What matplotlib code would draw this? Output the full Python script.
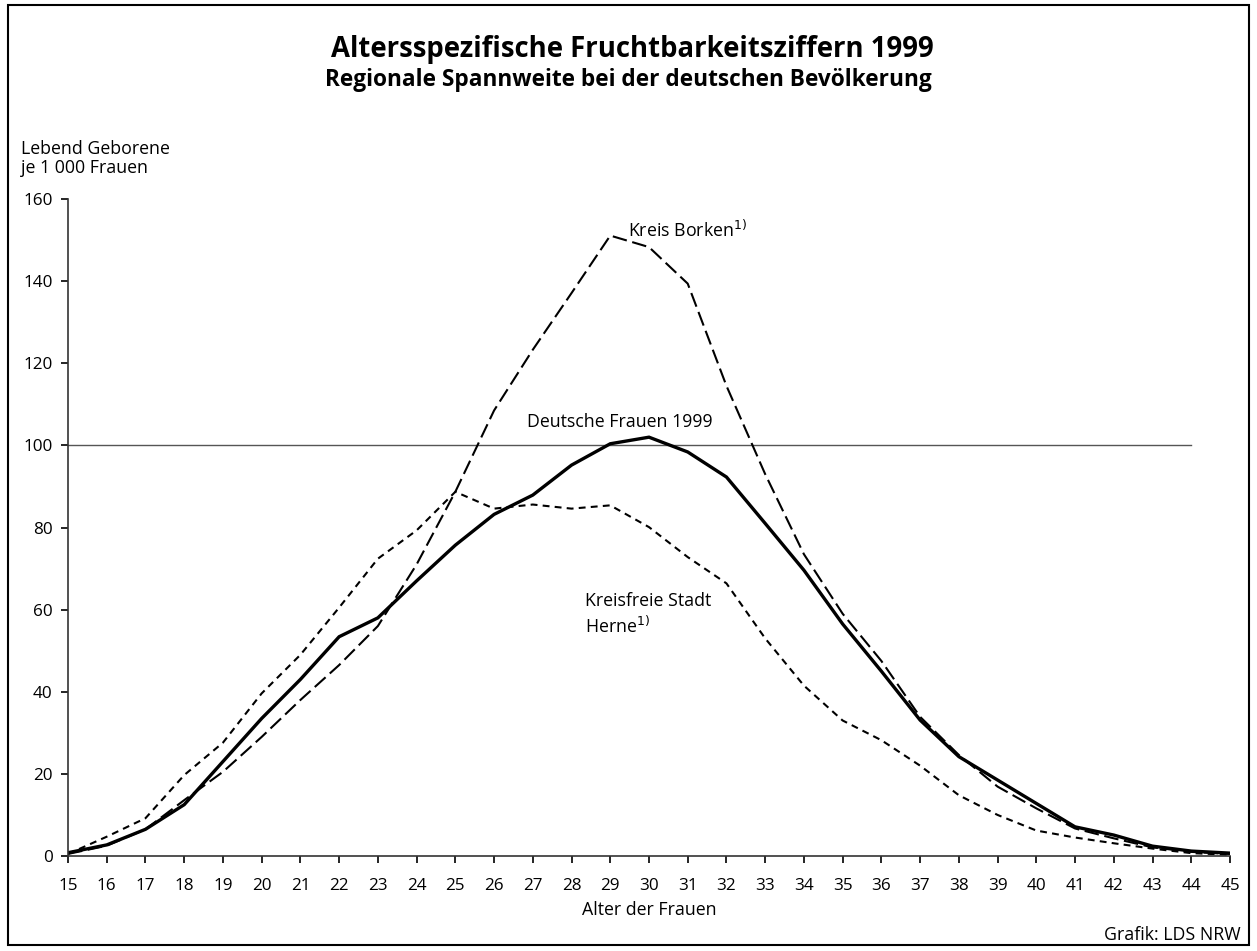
# Altersspezifische Fruchtbarkeitsziffern 1999 - regional range (German population)
import numpy as np
import matplotlib.pyplot as plt
from matplotlib.patches import Rectangle

plt.rcParams['font.family'] = ['Open Sans', 'DejaVu Sans']

# ages of women
ages = np.arange(15, 46)

# live births per 1 000 women
deutsche_frauen = [0.8, 2.7, 6.5, 12.5, 23.0, 33.5, 43.0, 53.4, 58.0, 67.0,
                   75.7, 83.2, 87.9, 95.2, 100.4, 102.0, 98.4, 92.3, 81.0, 69.6,
                   56.5, 45.0, 33.1, 24.2, 18.5, 12.8, 7.1, 5.1, 2.4, 1.2, 0.7]
kreis_borken = [0.5, 2.5, 6.5, 13.6, 20.5, 29.0, 38.0, 46.5, 56.0, 71.0,
                88.7, 108.5, 123.3, 137.1, 151.1, 148.3, 139.4, 114.5, 93.0, 73.5,
                59.0, 47.5, 33.9, 24.6, 16.9, 11.6, 6.7, 4.3, 2.1, 1.0, 0.5]
herne = [0.5, 4.7, 9.2, 19.7, 27.6, 39.6, 49.0, 60.5, 72.4, 79.3,
         88.7, 84.6, 85.6, 84.6, 85.4, 80.1, 72.8, 66.4, 53.0, 41.5,
         33.0, 28.2, 22.0, 14.8, 10.0, 6.2, 4.5, 3.1, 1.8, 0.7, 0.3]

fs = 12.8

fig = plt.figure(figsize=(12.57, 9.51), dpi=100)
ax = fig.add_axes([0.0541, 0.0999, 0.9244, 0.6908])

# reference line at 100
ax.plot([15, 44], [100, 100], color='#555555', lw=1.0)

ax.plot(ages, kreis_borken, color='black', lw=1.5, dashes=(7, 2.7))
ax.plot(ages, herne, color='black', lw=1.5, dashes=(3.3, 2.5))
ax.plot(ages, deutsche_frauen, color='black', lw=2.4, solid_joinstyle='miter')

ax.set_xlim(15, 45)
ax.set_ylim(0, 160)
ax.set_xticks(ages)
ax.set_yticks(np.arange(0, 161, 20))
ax.spines['top'].set_visible(False)
ax.spines['right'].set_visible(False)
for s in ['left', 'bottom']:
    ax.spines[s].set_color('#333333')
    ax.spines[s].set_linewidth(1.2)
ax.tick_params(direction='out', length=5, width=1.2, labelsize=12.3, pad=11)
ax.tick_params(axis='y', pad=6)
ax.set_xlabel('Alter der Frauen', fontsize=fs, labelpad=5)

# curve labels
ax.text(29.45, 152.5, 'Kreis Borken$^{1)}$', fontsize=fs, va='center')
ax.text(26.85, 105.8, 'Deutsche Frauen 1999', fontsize=fs, va='center')
ax.text(28.35, 62.0, 'Kreisfreie Stadt', fontsize=fs, va='center')
ax.text(28.35, 56.0, 'Herne$^{1)}$', fontsize=fs, va='center')

# titles and notes
fig.text(0.503, 0.948, 'Altersspezifische Fruchtbarkeitsziffern 1999',
         ha='center', va='center', fontsize=19.8, fontweight='bold')
fig.text(0.500, 0.916, 'Regionale Spannweite bei der deutschen Bevölkerung',
         ha='center', va='center', fontsize=16.3, fontweight='bold')
fig.text(0.017, 0.833, 'Lebend Geborene\nje 1 000 Frauen', ha='left',
         va='center', fontsize=fs, linespacing=1.05)
fig.text(0.987, 0.017, 'Grafik: LDS NRW', ha='right', va='center',
         fontsize=fs)

# frame around the whole graphic
fig.patches.append(Rectangle((0.006, 0.006), 0.988, 0.989,
                             transform=fig.transFigure, fill=False,
                             edgecolor='black', lw=1.5))

fig.savefig('out.png', dpi=100)
